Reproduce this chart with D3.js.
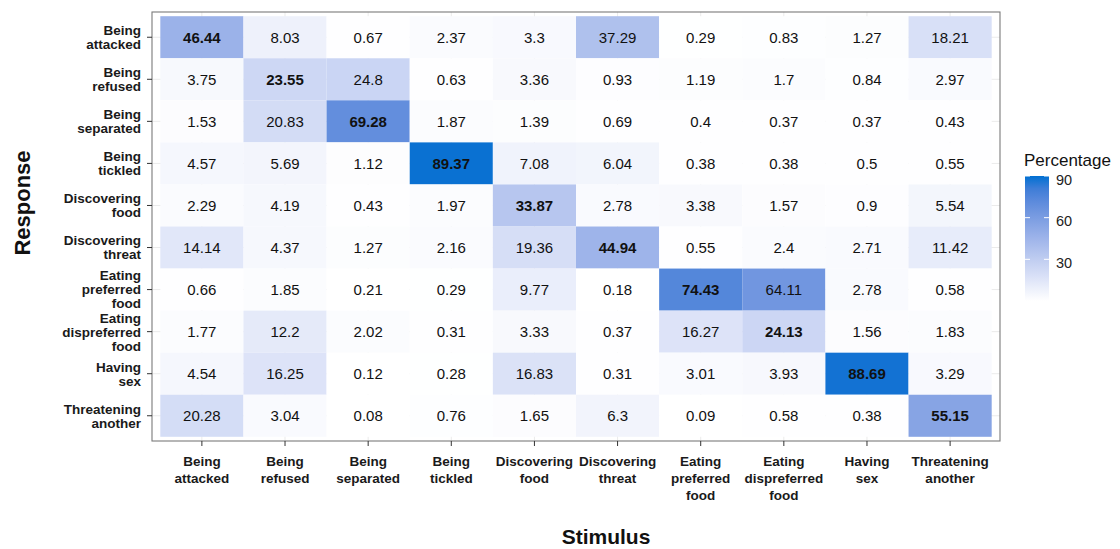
<!DOCTYPE html>
<html>
<head>
<meta charset="utf-8">
<script src="https://cdn.jsdelivr.net/npm/d3@7"></script>
<style>
  html, body { margin: 0; padding: 0; background: #fff; }
  svg { display: block; font-family: "Liberation Sans", Arial, sans-serif; }
</style>
</head>
<body>
<svg id="chart" width="1120" height="549"></svg>
<script>
// Stimulus categories (columns) and response categories (rows)
const stimuli = ["Being attacked", "Being refused", "Being separated", "Being tickled",
  "Discovering food", "Discovering threat", "Eating preferred food",
  "Eating dispreferred food", "Having sex", "Threatening another"];
const responses = stimuli.slice();

// Axis label line breaks
const labelLines = {
  "Being attacked": ["Being", "attacked"],
  "Being refused": ["Being", "refused"],
  "Being separated": ["Being", "separated"],
  "Being tickled": ["Being", "tickled"],
  "Discovering food": ["Discovering", "food"],
  "Discovering threat": ["Discovering", "threat"],
  "Eating preferred food": ["Eating", "preferred", "food"],
  "Eating dispreferred food": ["Eating", "dispreferred", "food"],
  "Having sex": ["Having", "sex"],
  "Threatening another": ["Threatening", "another"]
};

// Percentages, one array per response row, ordered by stimulus
const rowBeingAttacked      = [46.44, 8.03, 0.67, 2.37, 3.3, 37.29, 0.29, 0.83, 1.27, 18.21];
const rowBeingRefused       = [3.75, 23.55, 24.8, 0.63, 3.36, 0.93, 1.19, 1.7, 0.84, 2.97];
const rowBeingSeparated     = [1.53, 20.83, 69.28, 1.87, 1.39, 0.69, 0.4, 0.37, 0.37, 0.43];
const rowBeingTickled       = [4.57, 5.69, 1.12, 89.37, 7.08, 6.04, 0.38, 0.38, 0.5, 0.55];
const rowDiscoveringFood    = [2.29, 4.19, 0.43, 1.97, 33.87, 2.78, 3.38, 1.57, 0.9, 5.54];
const rowDiscoveringThreat  = [14.14, 4.37, 1.27, 2.16, 19.36, 44.94, 0.55, 2.4, 2.71, 11.42];
const rowEatingPreferred    = [0.66, 1.85, 0.21, 0.29, 9.77, 0.18, 74.43, 64.11, 2.78, 0.58];
const rowEatingDispreferred = [1.77, 12.2, 2.02, 0.31, 3.33, 0.37, 16.27, 24.13, 1.56, 1.83];
const rowHavingSex          = [4.54, 16.25, 0.12, 0.28, 16.83, 0.31, 3.01, 3.93, 88.69, 3.29];
const rowThreatening        = [20.28, 3.04, 0.08, 0.76, 1.65, 6.3, 0.09, 0.58, 0.38, 55.15];

const rows = [rowBeingAttacked, rowBeingRefused, rowBeingSeparated, rowBeingTickled,
  rowDiscoveringFood, rowDiscoveringThreat, rowEatingPreferred, rowEatingDispreferred,
  rowHavingSex, rowThreatening];

const legendTicks = [30, 60, 90];

const cells = [];
rows.forEach((vals, i) => vals.forEach((v, j) => {
  cells.push({ response: responses[i], stimulus: stimuli[j], value: v, diag: i === j });
}));

const svg = d3.select("#chart");
const panel = { left: 152, right: 1000, top: 12, bottom: 441 };

const x = d3.scaleBand().domain(stimuli).range([panel.left, panel.right])
  .paddingInner(0).paddingOuter(0.1);
const y = d3.scaleBand().domain(responses).range([panel.top, panel.bottom])
  .paddingInner(0).paddingOuter(0.1);

const color = d3.scaleLinear().domain([0, 90]).range(["#ffffff", "#0070d2"])
  .interpolate(d3.interpolateLab).clamp(true);

// Panel background and grid lines at category centres
svg.append("rect")
  .attr("x", panel.left).attr("y", panel.top)
  .attr("width", panel.right - panel.left).attr("height", panel.bottom - panel.top)
  .attr("fill", "#fff");
const grid = svg.append("g").attr("stroke", "#ebebeb").attr("stroke-width", 1);
grid.selectAll("line.v").data(stimuli).join("line")
  .attr("x1", d => x(d) + x.bandwidth() / 2).attr("x2", d => x(d) + x.bandwidth() / 2)
  .attr("y1", panel.top).attr("y2", panel.bottom);
grid.selectAll("line.h").data(responses).join("line")
  .attr("y1", d => y(d) + y.bandwidth() / 2).attr("y2", d => y(d) + y.bandwidth() / 2)
  .attr("x1", panel.left).attr("x2", panel.right);

// Tiles
svg.append("g").selectAll("rect").data(cells).join("rect")
  .attr("x", d => x(d.stimulus)).attr("y", d => y(d.response))
  .attr("width", x.bandwidth()).attr("height", y.bandwidth())
  .attr("fill", d => color(d.value));

// Tile value labels
svg.append("g").selectAll("text").data(cells).join("text")
  .attr("x", d => x(d.stimulus) + x.bandwidth() / 2)
  .attr("y", d => y(d.response) + y.bandwidth() / 2)
  .attr("dy", "0.36em")
  .attr("text-anchor", "middle")
  .attr("font-size", 15)
  .attr("font-weight", d => d.diag ? "bold" : "normal")
  .attr("fill", "#111")
  .text(d => String(d.value));

// Panel border
svg.append("rect")
  .attr("x", panel.left).attr("y", panel.top)
  .attr("width", panel.right - panel.left).attr("height", panel.bottom - panel.top)
  .attr("fill", "none").attr("stroke", "#7a7a7a").attr("stroke-width", 1.1);

// X axis
const xAxis = svg.append("g")
  .attr("transform", `translate(0,${panel.bottom})`)
  .call(d3.axisBottom(x).tickSize(5).tickPadding(4).tickFormat(""));
xAxis.select(".domain").remove();
xAxis.selectAll(".tick line").attr("stroke", "#333");
xAxis.selectAll(".tick").each(function(d) {
  const t = d3.select(this).append("text")
    .attr("text-anchor", "middle").attr("fill", "#1a1a1a")
    .attr("font-size", 13.5).attr("font-weight", "bold");
  labelLines[d].forEach((ln, k) => {
    t.append("tspan").attr("x", 0).attr("y", 25 + k * 17).text(ln);
  });
});

// Y axis
const yAxis = svg.append("g")
  .attr("transform", `translate(${panel.left},0)`)
  .call(d3.axisLeft(y).tickSize(5).tickPadding(4).tickFormat(""));
yAxis.select(".domain").remove();
yAxis.selectAll(".tick line").attr("stroke", "#333");
yAxis.selectAll(".tick").each(function(d) {
  const lines = labelLines[d];
  const lh = 14;
  const t = d3.select(this).append("text")
    .attr("text-anchor", "end").attr("fill", "#1a1a1a")
    .attr("font-size", 13.5).attr("font-weight", "bold");
  lines.forEach((ln, k) => {
    t.append("tspan").attr("x", -11)
      .attr("y", (k - (lines.length - 1) / 2) * lh)
      .attr("dy", "0.36em").text(ln);
  });
});

// Axis titles
svg.append("text")
  .attr("x", 606).attr("y", 544)
  .attr("text-anchor", "middle").attr("font-size", 21).attr("font-weight", "bold")
  .attr("fill", "#111").text("Stimulus");
svg.append("text")
  .attr("transform", "translate(30,203) rotate(-90)")
  .attr("text-anchor", "middle").attr("font-size", 22).attr("font-weight", "bold")
  .attr("fill", "#111").text("Response");

// Colour bar legend
const bar = { x: 1025, w: 24, top: 176, bottom: 301 };
const ly = d3.scaleLinear().domain(color.domain()).range([bar.bottom, bar.top]);
const defs = svg.append("defs");
const grad = defs.append("linearGradient").attr("id", "pctGrad")
  .attr("x1", 0).attr("y1", 1).attr("x2", 0).attr("y2", 0);
d3.range(0, 1.0001, 0.1).forEach(t => {
  grad.append("stop").attr("offset", t)
    .attr("stop-color", color(color.domain()[0] + t * (color.domain()[1] - color.domain()[0])));
});
svg.append("rect")
  .attr("x", bar.x).attr("y", bar.top)
  .attr("width", bar.w).attr("height", bar.bottom - bar.top)
  .attr("fill", "url(#pctGrad)");
const lg = svg.append("g");
lg.selectAll("line.l").data(legendTicks).join("line")
  .attr("x1", bar.x).attr("x2", bar.x + 5)
  .attr("y1", d => ly(d)).attr("y2", d => ly(d))
  .attr("stroke", "#fff").attr("stroke-width", 1);
lg.selectAll("line.r").data(legendTicks).join("line")
  .attr("x1", bar.x + bar.w - 5).attr("x2", bar.x + bar.w)
  .attr("y1", d => ly(d)).attr("y2", d => ly(d))
  .attr("stroke", "#fff").attr("stroke-width", 1);
lg.selectAll("text").data(legendTicks).join("text")
  .attr("x", bar.x + bar.w + 7).attr("y", d => ly(d) + 4)
  .attr("dy", "0.32em").attr("font-size", 14.5).attr("fill", "#222")
  .text(d => d);
svg.append("text")
  .attr("x", 1024).attr("y", 166)
  .attr("font-size", 17).attr("fill", "#111").text("Percentage");
</script>
</body>
</html>
